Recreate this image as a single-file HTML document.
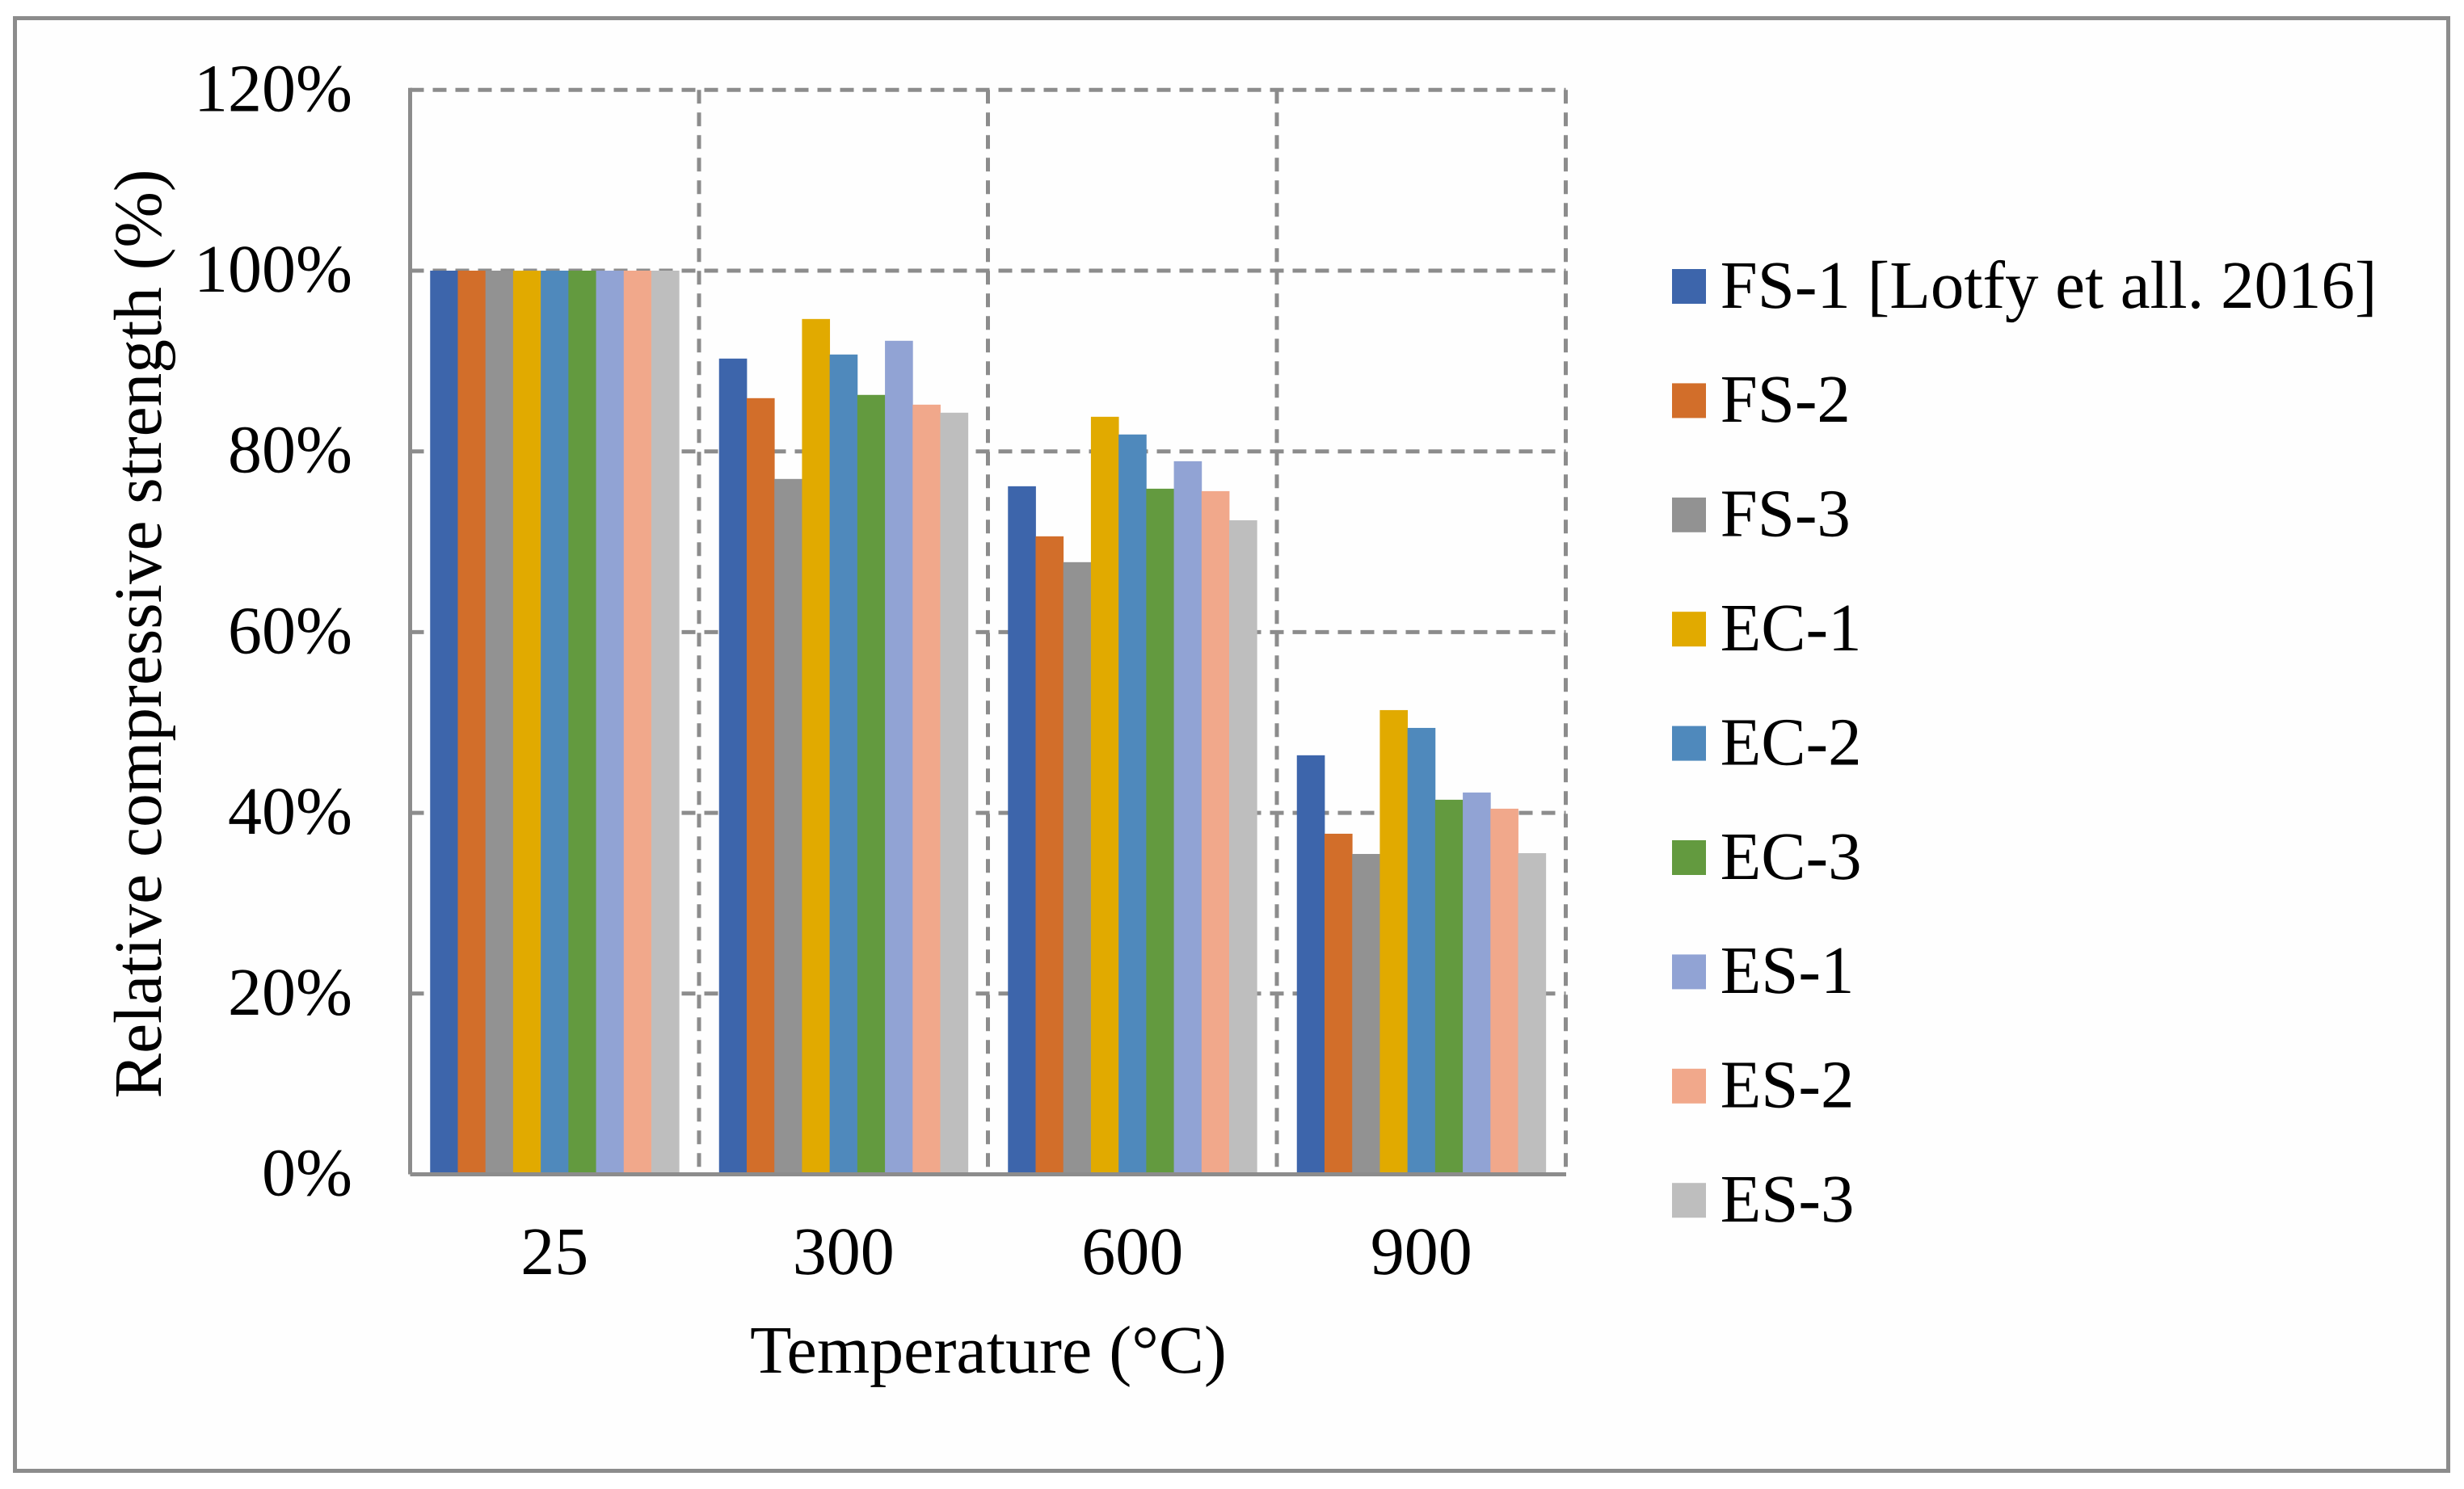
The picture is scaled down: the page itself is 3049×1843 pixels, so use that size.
<!DOCTYPE html>
<html>
<head>
<meta charset="utf-8">
<title>Relative compressive strength vs temperature</title>
<style>
html,body{margin:0;padding:0;background:#fff;}
body{width:3049px;height:1843px;overflow:hidden;}
svg{display:block;}
text{font-family:"Liberation Serif","Times New Roman",serif;font-size:84px;fill:#000;text-rendering:geometricPrecision;}
</style>
</head>
<body>
<svg id="chart" xmlns="http://www.w3.org/2000/svg" width="3049" height="1843" viewBox="0 0 3049 1843">
  <rect x="18.5" y="22.5" width="3011" height="1798" fill="#fefefe" stroke="#8c8c8c" stroke-width="5"/>
  <g id="grid"></g>
  <g id="bars"></g>
  <g id="axes"></g>
  <g id="yticks"></g>
  <g id="xticks"></g>
  <text x="1223" y="1699" text-anchor="middle">Temperature (°C)</text>
  <text transform="translate(199 784.5) rotate(-90)" text-anchor="middle" textLength="1150" lengthAdjust="spacingAndGlyphs">Relative compressive strength (%)</text>
  <g id="legend"></g>
</svg>
<script>
const categories = ["25", "300", "600", "900"];
const yTickValues = [0, 20, 40, 60, 80, 100, 120];
const seriesNames = ["FS-1 [Lotfy et all. 2016]", "FS-2", "FS-3", "EC-1", "EC-2", "EC-3", "ES-1", "ES-2", "ES-3"];
const seriesColors = ["#3d65ab", "#d26e2a", "#929292", "#e1aa00", "#4f89bc", "#639a3f", "#91a3d4", "#f1a88b", "#bebebe"];
const fs1Values = [100, 90.27, 76.14, 46.37];
const fs2Values = [100, 85.89, 70.60, 37.69];
const fs3Values = [100, 76.95, 67.74, 35.45];
const ec1Values = [100, 94.65, 83.83, 51.37];
const ec2Values = [100, 90.72, 81.87, 49.40];
const ec3Values = [100, 86.25, 75.87, 41.45];
const es1Values = [100, 92.24, 78.91, 42.25];
const es2Values = [100, 85.17, 75.60, 40.46];
const es3Values = [100, 84.28, 72.38, 35.54];
const seriesValues = [fs1Values, fs2Values, fs3Values, ec1Values, ec2Values, ec3Values, es1Values, es2Values, es3Values];

const NS = "http://www.w3.org/2000/svg";
const plotLeft = 507.5, plotRight = 1937.5, plotTop = 111.3, plotBottom = 1453.5;
const yMax = 120;
const bandWidth = (plotRight - plotLeft) / categories.length;
const groupWidth = bandWidth * 0.8615;
const barWidth = groupWidth / seriesValues.length;
const gridColor = "#8c8c8c";

function yScale(v) { return plotBottom - (v / yMax) * (plotBottom - plotTop); }
function xBand(i) { return plotLeft + i * bandWidth; }
function xBar(c, s) { return xBand(c) + (bandWidth - groupWidth) / 2 + s * barWidth; }

function line(parent, x1, y1, x2, y2, dash) {
  const el = document.createElementNS(NS, "line");
  el.setAttribute("x1", x1);
  el.setAttribute("y1", y1);
  el.setAttribute("x2", x2);
  el.setAttribute("y2", y2);
  el.setAttribute("stroke", gridColor);
  el.setAttribute("stroke-width", 5);
  if (dash) el.setAttribute("stroke-dasharray", "17 11");
  parent.appendChild(el);
  return el;
}

const grid = document.getElementById("grid");
yTickValues.forEach(function (v) {
  if (v === 0) return;
  const el = line(grid, plotLeft, yScale(v), plotRight, yScale(v), true);
  
  
});
categories.forEach(function (c, i) {
  const el = line(grid, xBand(i + 1), plotTop, xBand(i + 1), plotBottom, true);
  
  
});

const bars = document.getElementById("bars");
seriesValues.forEach(function (values, s) {
  values.forEach(function (v, c) {
    const r = document.createElementNS(NS, "rect");
    r.setAttribute("x", xBar(c, s).toFixed(2));
    r.setAttribute("y", yScale(v).toFixed(2));
    r.setAttribute("width", (barWidth + 0.4).toFixed(2));
    r.setAttribute("height", (plotBottom - yScale(v)).toFixed(2));
    r.setAttribute("fill", seriesColors[s]);
    
    
    bars.appendChild(r);
  });
});

const axes = document.getElementById("axes");
const yAxisLine = line(axes, plotLeft, plotTop - 2.5, plotLeft, plotBottom, false);


const xAxisLine = line(axes, plotLeft, plotBottom, plotRight + 0.5, plotBottom, false);



const yticks = document.getElementById("yticks");
yTickValues.forEach(function (v) {
  const t = document.createElementNS(NS, "text");
  t.setAttribute("x", 436);
  t.setAttribute("y", (yScale(v) + 26).toFixed(1));
  t.setAttribute("text-anchor", "end");
  
  
  t.textContent = v + "%";
  yticks.appendChild(t);
});

const xticks = document.getElementById("xticks");
categories.forEach(function (c, i) {
  const t = document.createElementNS(NS, "text");
  t.setAttribute("x", (xBand(i) + bandWidth / 2).toFixed(1));
  t.setAttribute("y", 1577);
  t.setAttribute("text-anchor", "middle");
  
  
  t.textContent = c;
  xticks.appendChild(t);
});

const legend = document.getElementById("legend");
seriesNames.forEach(function (name, i) {
  const cy = 354.5 + i * 141.4;
  const g = document.createElementNS(NS, "g");
  
  
  const r = document.createElementNS(NS, "rect");
  r.setAttribute("x", 2069);
  r.setAttribute("y", (cy - 21.5).toFixed(1));
  r.setAttribute("width", 42);
  r.setAttribute("height", 43);
  r.setAttribute("fill", seriesColors[i]);
  
  
  const t = document.createElementNS(NS, "text");
  t.setAttribute("x", 2128.6);
  t.setAttribute("y", (cy + 26.3).toFixed(1));
  
  
  t.textContent = name;
  g.appendChild(r);
  g.appendChild(t);
  legend.appendChild(g);
  t.setAttribute("lengthAdjust", "spacingAndGlyphs");
  t.setAttribute("textLength", (t.getComputedTextLength() * 0.987).toFixed(1));
});
</script>
</body>
</html>
